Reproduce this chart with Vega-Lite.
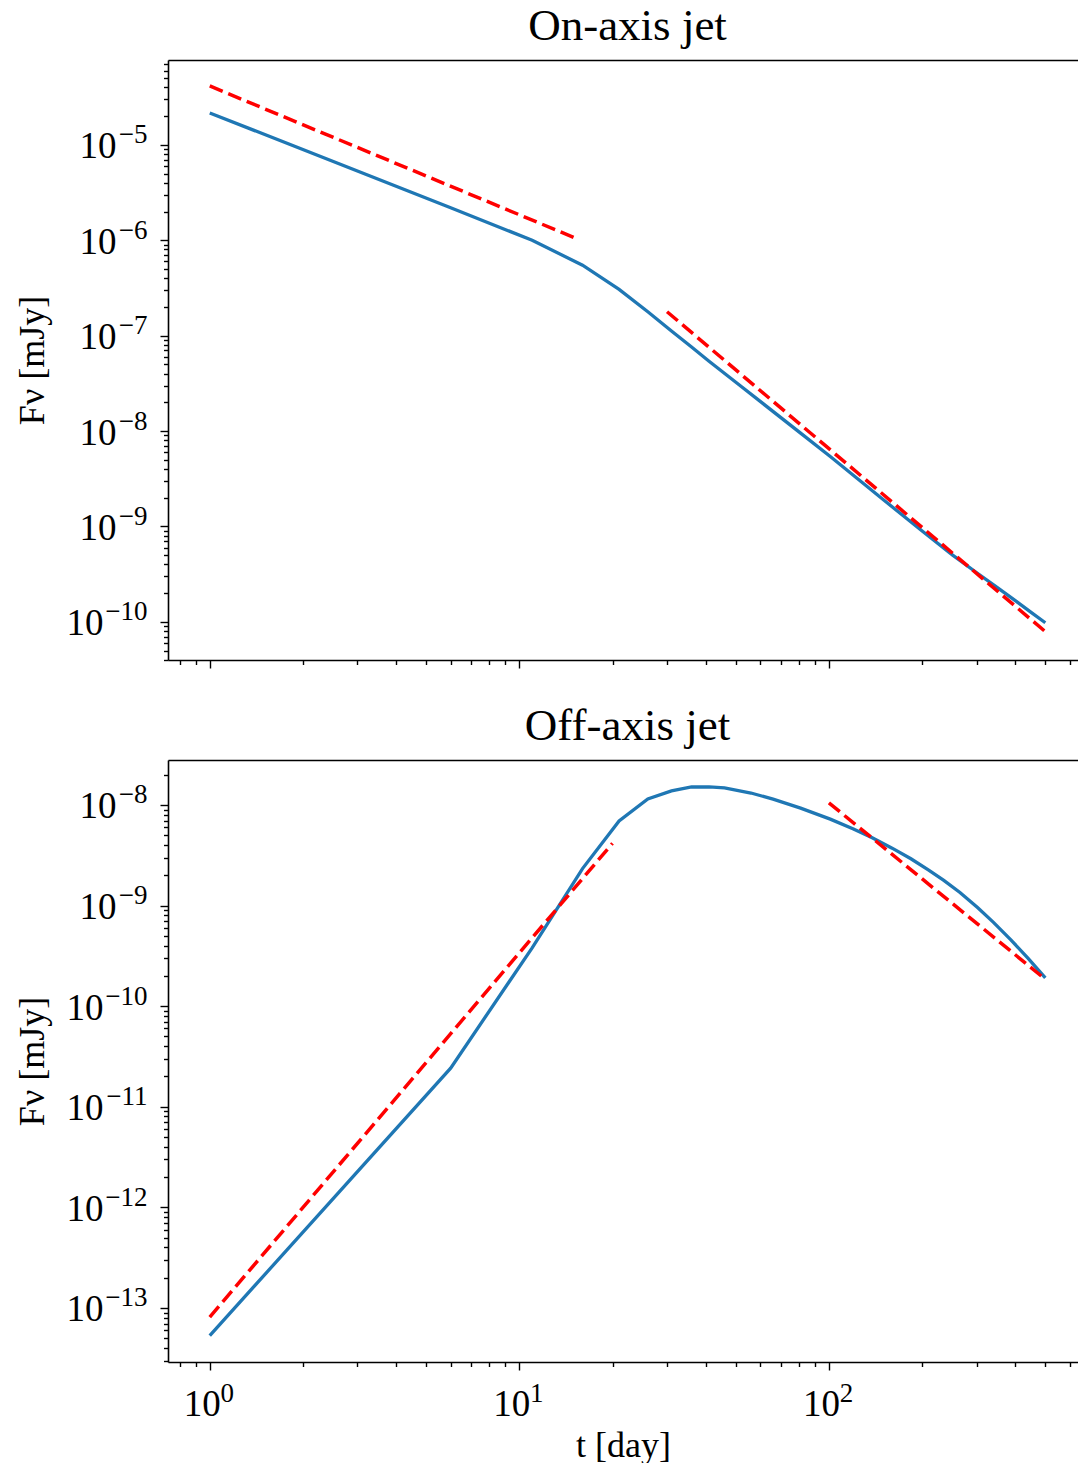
{
  "$schema": "https://vega.github.io/schema/vega-lite/v6.json",
  "background": "white",
  "padding": {"left": 14, "top": 4, "right": 0, "bottom": 0},
  "spacing": 35,
  "config": {
    "view": {"stroke": null},
    "font": "Liberation Serif",
    "axis": {
      "domainColor": "black", "domainWidth": 1.6, "tickColor": "black", "tickWidth": 1.4,
      "grid": false, "labelFont": "Liberation Serif", "labelColor": "black", "labelFontSize": 37,
      "titleFont": "Liberation Serif", "titleColor": "black", "titleFontSize": 36, "titleFontWeight": "normal",
      "labelFlush": false, "labelOverlap": false, "labelBound": false
    },
    "title": {"font": "Liberation Serif", "fontSize": 45, "fontWeight": "normal", "color": "black", "frame": "group", "anchor": "middle"}
  },
  "datasets": {
    "onBlue": [
      {"t": 1, "F": 2.16e-5}, {"t": 6, "F": 2.19e-6}, {"t": 11, "F": 1.0e-6}, {"t": 16, "F": 5.47e-7},
      {"t": 21, "F": 3.05e-7}, {"t": 26, "F": 1.78e-7}, {"t": 31, "F": 1.12e-7}, {"t": 36, "F": 7.59e-8},
      {"t": 41, "F": 5.40e-8}, {"t": 51, "F": 3.09e-8}, {"t": 61, "F": 1.96e-8}, {"t": 81, "F": 9.51e-9},
      {"t": 101, "F": 5.40e-9}, {"t": 151, "F": 1.87e-9}, {"t": 201, "F": 8.85e-10}, {"t": 251, "F": 5.00e-10},
      {"t": 301, "F": 3.25e-10}, {"t": 351, "F": 2.27e-10}, {"t": 401, "F": 1.66e-10}, {"t": 451, "F": 1.25e-10},
      {"t": 500, "F": 9.77e-11}
    ],
    "onRed": [
      {"seg": "a", "t": 1, "F": 4.14e-5}, {"seg": "a", "t": 15, "F": 1.07e-6},
      {"seg": "b", "t": 30, "F": 1.78e-7}, {"seg": "b", "t": 500, "F": 7.9e-11}
    ],
    "offBlue": [
      {"t": 1, "F": 5.3e-14}, {"t": 6, "F": 2.42e-11}, {"t": 11, "F": 3.8e-10}, {"t": 16, "F": 2.33e-9},
      {"t": 21, "F": 6.93e-9}, {"t": 26, "F": 1.15e-8}, {"t": 31, "F": 1.38e-8}, {"t": 36, "F": 1.51e-8},
      {"t": 41, "F": 1.51e-8}, {"t": 46, "F": 1.48e-8}, {"t": 56, "F": 1.315e-8}, {"t": 66, "F": 1.143e-8},
      {"t": 81, "F": 9.31e-9}, {"t": 101, "F": 7.23e-9}, {"t": 120, "F": 5.78e-9}, {"t": 138, "F": 4.72e-9},
      {"t": 160, "F": 3.72e-9}, {"t": 184, "F": 2.92e-9}, {"t": 210, "F": 2.25e-9}, {"t": 235, "F": 1.78e-9},
      {"t": 265, "F": 1.35e-9}, {"t": 302, "F": 9.55e-10}, {"t": 340, "F": 6.81e-10}, {"t": 387, "F": 4.56e-10},
      {"t": 440, "F": 2.99e-10}, {"t": 500, "F": 1.91e-10}
    ],
    "offRed": [
      {"seg": "a", "t": 1, "F": 8.1e-14}, {"seg": "a", "t": 20, "F": 4.16e-9},
      {"seg": "b", "t": 100, "F": 1.05e-8}, {"seg": "b", "t": 500, "F": 1.85e-10}
    ]
  },
  "vconcat": [
    {
      "title": {"text": "On-axis jet", "dx": 4.5, "offset": 11},
      "width": 910, "height": 600,
      "resolve": {"axis": {"x": "independent", "y": "independent"}},
      "layer": [
        {
          "data": {"name": "onBlue"},
          "mark": {"type": "line", "color": "#1f77b4", "strokeWidth": 3.3, "clip": true},
          "encoding": {
            "x": {"field": "t", "type": "quantitative",
              "scale": {"type": "log", "domain": [0.733, 637.6], "nice": false},
              "axis": {"orient": "bottom", "values": [1, 10, 100], "tickSize": 8, "labels": false, "title": null, "domain": true}},
            "y": {"field": "F", "type": "quantitative",
              "scale": {"type": "log", "domain": [3.98e-11, 7.75e-5], "nice": false},
              "axis": {"orient": "left", "values": [1e-10, 1e-9, 1e-8, 1e-7, 1e-6, 1e-5], "tickSize": 8,
                "labelPadding": 44, "labelAlign": "right", "labelBaseline": "alphabetic", "labelOffset": 13,
                "labelExpr": "datum.value < 3e-10 ? '' : '10'", "title": null}}
          }
        },
        {
          "data": {"name": "onRed"},
          "mark": {"type": "line", "color": "red", "strokeWidth": 3.5, "strokeDash": [14, 6], "clip": true},
          "encoding": {
            "x": {"field": "t", "type": "quantitative",
              "scale": {"type": "log", "domain": [0.733, 637.6], "nice": false},
              "axis": {"orient": "bottom", "values": [0.8, 0.9, 2, 3, 4, 5, 6, 7, 8, 9, 20, 30, 40, 50, 60, 70, 80, 90, 200, 300, 400, 500, 600], "tickSize": 4.5, "labels": false, "title": null, "domain": false}},
            "y": {"field": "F", "type": "quantitative",
              "scale": {"type": "log", "domain": [3.98e-11, 7.75e-5], "nice": false},
              "axis": {"orient": "left", "values": [4e-11, 5e-11, 6e-11, 7e-11, 8e-11, 9e-11, 2e-10, 3e-10, 4e-10, 5e-10, 6e-10, 7e-10, 8e-10, 9e-10, 2e-9, 3e-9, 4e-9, 5e-9, 6e-9, 7e-9, 8e-9, 9e-9, 2e-8, 3e-8, 4e-8, 5e-8, 6e-8, 7e-8, 8e-8, 9e-8, 2e-7, 3e-7, 4e-7, 5e-7, 6e-7, 7e-7, 8e-7, 9e-7, 2e-6, 3e-6, 4e-6, 5e-6, 6e-6, 7e-6, 8e-6, 9e-6, 2e-5, 3e-5, 4e-5, 5e-5, 6e-5, 7e-5], "tickSize": 4.5, "labels": false, "title": null, "domain": false}},
            "detail": {"field": "seg", "type": "nominal"}
          }
        },
        {
          "data": {"name": "onBlue"},
          "mark": {"type": "line", "opacity": 0},
          "encoding": {
            "x": {"field": "t", "type": "quantitative",
              "scale": {"type": "log", "domain": [0.733, 637.6], "nice": false},
              "axis": {"orient": "top", "ticks": false, "labels": false, "title": null, "domain": true}},
            "y": {"field": "F", "type": "quantitative",
              "scale": {"type": "log", "domain": [3.98e-11, 7.75e-5], "nice": false},
              "axis": {"orient": "left", "values": [1e-10, 1e-9, 1e-8, 1e-7, 1e-6, 1e-5], "ticks": false, "domain": false,
                "labelPadding": 21, "labelAlign": "right", "labelBaseline": "alphabetic", "labelOffset": -2, "labelFontSize": 27,
                "labelExpr": "replace(toString(round(log(datum.value)/LN10)), '-', '−')", "title": null}}
          }
        },
        {
          "data": {"name": "onBlue"},
          "mark": {"type": "line", "opacity": 0},
          "encoding": {
            "x": {"field": "t", "type": "quantitative",
              "scale": {"type": "log", "domain": [0.733, 637.6], "nice": false}, "axis": null},
            "y": {"field": "F", "type": "quantitative",
              "scale": {"type": "log", "domain": [3.98e-11, 7.75e-5], "nice": false},
              "axis": {"orient": "left", "values": [1e-10], "ticks": false, "domain": false,
                "labelPadding": 65, "labelAlign": "right", "labelBaseline": "alphabetic", "labelOffset": 13,
                "labelExpr": "'10'", "title": "Fν [mJy]", "titlePadding": 15}}
          }
        }
      ]
    },
    {
      "title": {"text": "Off-axis jet", "dx": 4.5, "offset": 11},
      "width": 910, "height": 602,
      "resolve": {"axis": {"x": "independent", "y": "independent"}},
      "layer": [
        {
          "data": {"name": "offBlue"},
          "mark": {"type": "line", "color": "#1f77b4", "strokeWidth": 3.3, "clip": true},
          "encoding": {
            "x": {"field": "t", "type": "quantitative",
              "scale": {"type": "log", "domain": [0.733, 637.6], "nice": false},
              "axis": {"orient": "bottom", "values": [1, 10, 100], "tickSize": 8, "domain": true,
                "labelPadding": 45, "labelAlign": "center", "labelBaseline": "alphabetic", "labelOffset": -8,
                "labelExpr": "'10'", "title": "t [day]", "titlePadding": 6}},
            "y": {"field": "F", "type": "quantitative",
              "scale": {"type": "log", "domain": [2.9e-14, 2.8e-8], "nice": false},
              "axis": {"orient": "left", "values": [1e-13, 1e-12, 1e-11, 1e-10, 1e-9, 1e-8], "tickSize": 8,
                "labelPadding": 44, "labelAlign": "right", "labelBaseline": "alphabetic", "labelOffset": 13,
                "labelExpr": "datum.value < 3e-10 ? '' : '10'", "title": null}}
          }
        },
        {
          "data": {"name": "offRed"},
          "mark": {"type": "line", "color": "red", "strokeWidth": 3.5, "strokeDash": [14, 6], "clip": true},
          "encoding": {
            "x": {"field": "t", "type": "quantitative",
              "scale": {"type": "log", "domain": [0.733, 637.6], "nice": false},
              "axis": {"orient": "bottom", "values": [0.8, 0.9, 2, 3, 4, 5, 6, 7, 8, 9, 20, 30, 40, 50, 60, 70, 80, 90, 200, 300, 400, 500, 600], "tickSize": 4.5, "labels": false, "title": null, "domain": false}},
            "y": {"field": "F", "type": "quantitative",
              "scale": {"type": "log", "domain": [2.9e-14, 2.8e-8], "nice": false},
              "axis": {"orient": "left", "values": [3e-14, 4e-14, 5e-14, 6e-14, 7e-14, 8e-14, 9e-14, 2e-13, 3e-13, 4e-13, 5e-13, 6e-13, 7e-13, 8e-13, 9e-13, 2e-12, 3e-12, 4e-12, 5e-12, 6e-12, 7e-12, 8e-12, 9e-12, 2e-11, 3e-11, 4e-11, 5e-11, 6e-11, 7e-11, 8e-11, 9e-11, 2e-10, 3e-10, 4e-10, 5e-10, 6e-10, 7e-10, 8e-10, 9e-10, 2e-9, 3e-9, 4e-9, 5e-9, 6e-9, 7e-9, 8e-9, 9e-9, 2e-8], "tickSize": 4.5, "labels": false, "title": null, "domain": false}},
            "detail": {"field": "seg", "type": "nominal"}
          }
        },
        {
          "data": {"name": "offBlue"},
          "mark": {"type": "line", "opacity": 0},
          "encoding": {
            "x": {"field": "t", "type": "quantitative",
              "scale": {"type": "log", "domain": [0.733, 637.6], "nice": false},
              "axis": {"orient": "bottom", "values": [1, 10, 100], "ticks": false, "domain": false,
                "labelPadding": 39, "labelAlign": "center", "labelBaseline": "alphabetic", "labelOffset": 17, "labelFontSize": 27,
                "labelExpr": "toString(round(log(datum.value)/LN10))", "title": null}},
            "y": {"field": "F", "type": "quantitative",
              "scale": {"type": "log", "domain": [2.9e-14, 2.8e-8], "nice": false},
              "axis": {"orient": "left", "values": [1e-13, 1e-12, 1e-11, 1e-10, 1e-9, 1e-8], "ticks": false, "domain": false,
                "labelPadding": 21, "labelAlign": "right", "labelBaseline": "alphabetic", "labelOffset": -2, "labelFontSize": 27,
                "labelExpr": "replace(toString(round(log(datum.value)/LN10)), '-', '−')", "title": null}}
          }
        },
        {
          "data": {"name": "offBlue"},
          "mark": {"type": "line", "opacity": 0},
          "encoding": {
            "x": {"field": "t", "type": "quantitative",
              "scale": {"type": "log", "domain": [0.733, 637.6], "nice": false},
              "axis": {"orient": "top", "ticks": false, "labels": false, "title": null, "domain": true}},
            "y": {"field": "F", "type": "quantitative",
              "scale": {"type": "log", "domain": [2.9e-14, 2.8e-8], "nice": false},
              "axis": {"orient": "left", "values": [1e-13, 1e-12, 1e-11, 1e-10], "ticks": false, "domain": false,
                "labelPadding": 65, "labelAlign": "right", "labelBaseline": "alphabetic", "labelOffset": 13,
                "labelExpr": "'10'", "title": "Fν [mJy]", "titlePadding": 15}}
          }
        }
      ]
    }
  ]
}
